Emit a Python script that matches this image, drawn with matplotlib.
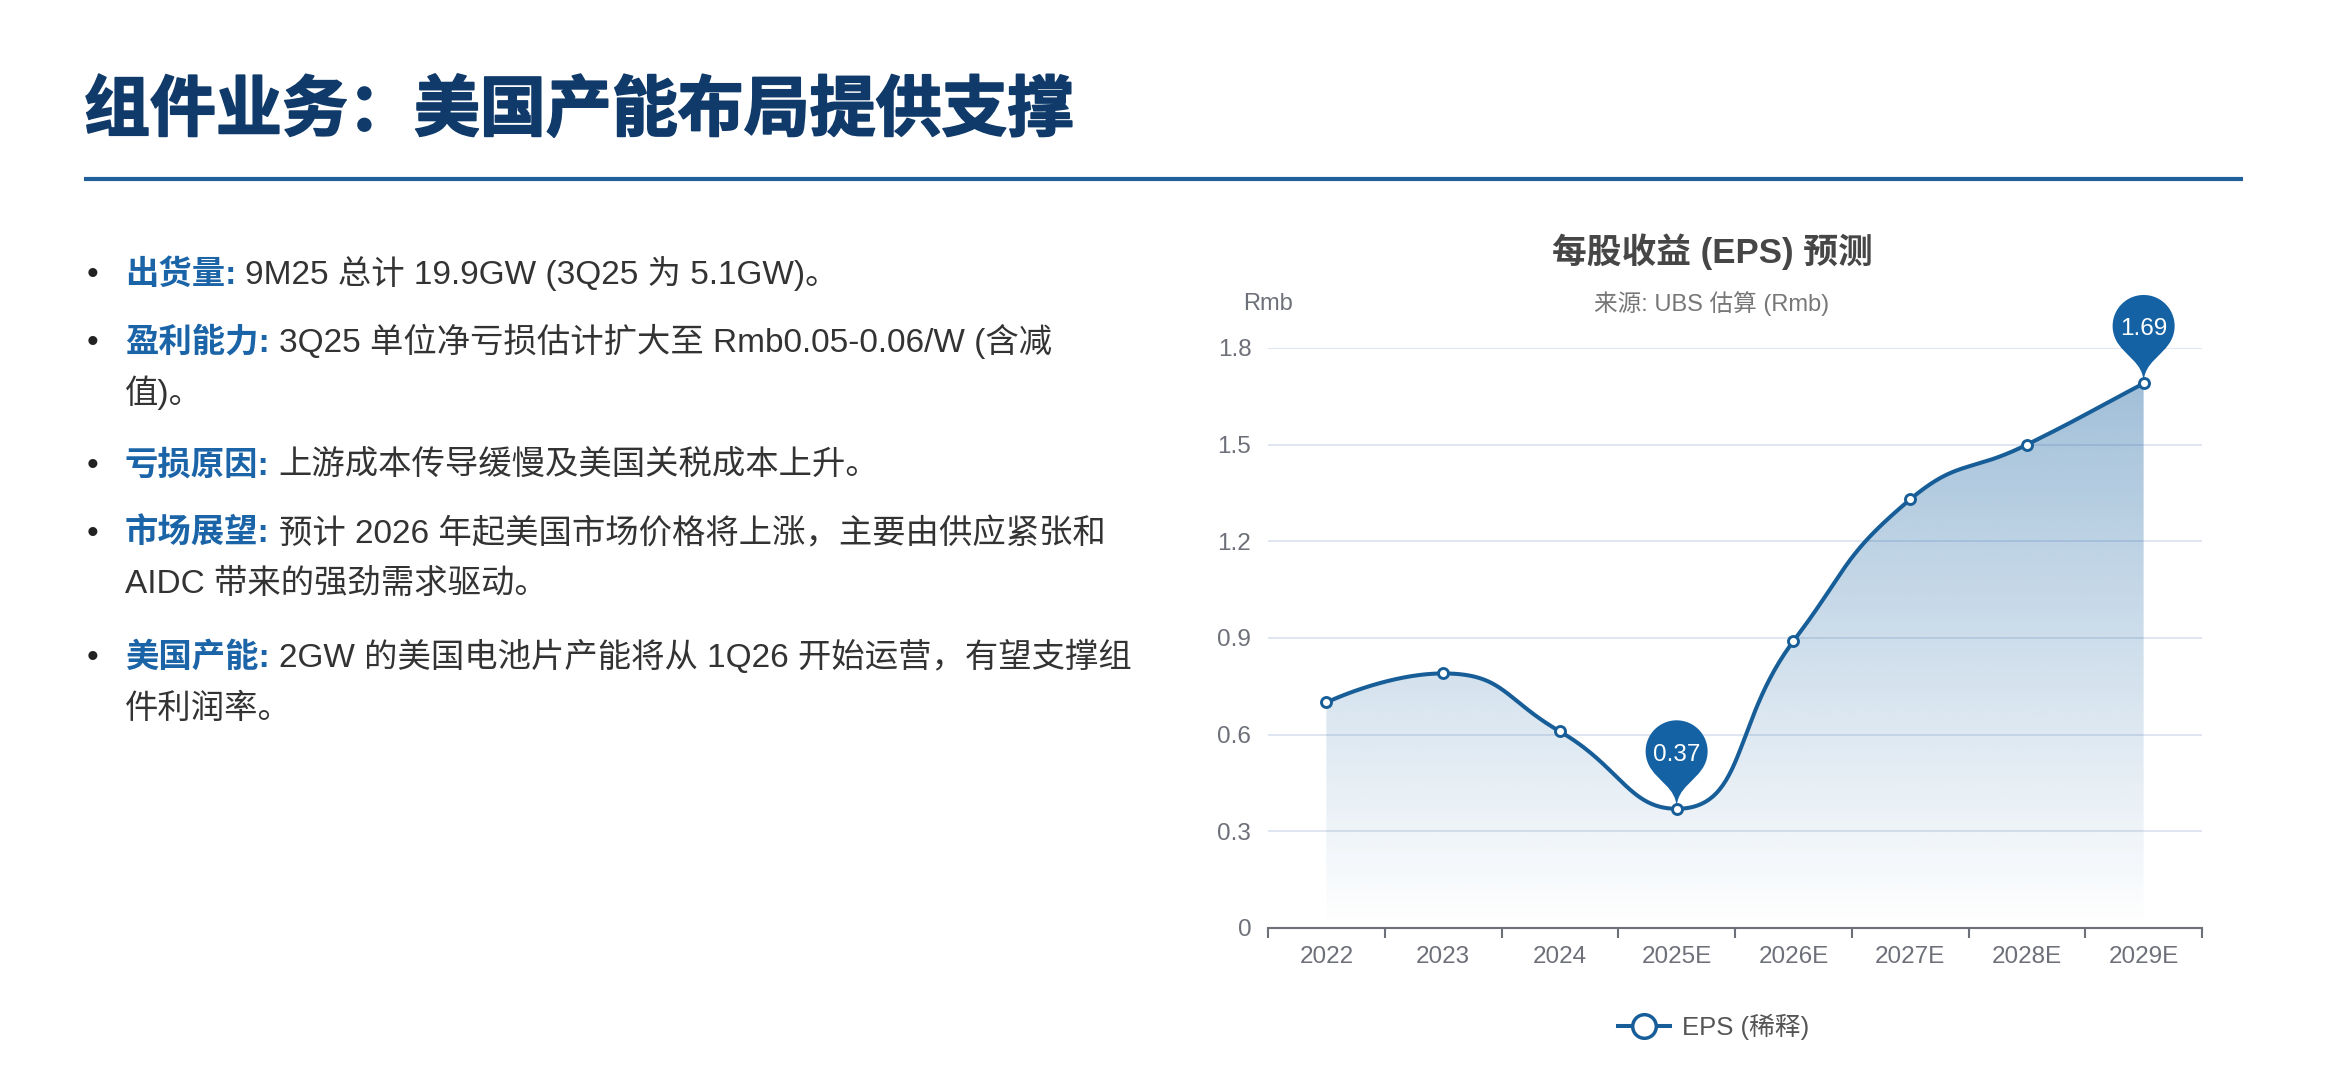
import numpy as np
import matplotlib
matplotlib.use('Agg')
import matplotlib.pyplot as plt
from matplotlib.path import Path
from matplotlib.patches import PathPatch, Polygon
from matplotlib.lines import Line2D
from matplotlib.transforms import IdentityTransform
import matplotlib.patheffects as pe

# ---------------- data ----------------
categories = ['2022', '2023', '2024', '2025E', '2026E', '2027E', '2028E', '2029E']
eps = [0.70, 0.79, 0.61, 0.37, 0.89, 1.33, 1.50, 1.69]
y_ticks = [0, 0.3, 0.6, 0.9, 1.2, 1.5, 1.8]
y_tick_labels = ['0', '0.3', '0.6', '0.9', '1.2', '1.5', '1.8']
pin_categories = ['2025E', '2029E']

page_title = '组件业务：美国产能布局提供支撑'
chart_title = '每股收益 (EPS) 预测'
chart_subtitle = '来源: UBS 估算 (Rmb)'
y_unit = 'Rmb'
legend_label = 'EPS (稀释)'

bullet_labels = ['出货量:', '盈利能力:', '亏损原因:', '市场展望:', '美国产能:']
bullet_lines = [
    ['9M25 总计 19.9GW (3Q25 为 5.1GW)。'],
    ['3Q25 单位净亏损估计扩大至 Rmb0.05-0.06/W (含减', '值)。'],
    ['上游成本传导缓慢及美国关税成本上升。'],
    ['预计 2026 年起美国市场价格将上涨，主要由供应紧张和', 'AIDC 带来的强劲需求驱动。'],
    ['2GW 的美国电池片产能将从 1Q26 开始运营，有望支撑组', '件利润率。'],
]

# ---------------- layout / style ----------------
W, H = 2325, 1080
FAM = ['Liberation Sans', 'Noto Sans CJK SC', 'DejaVu Sans']
CJK = ['Noto Sans CJK SC', 'DejaVu Sans']
LINE_C = '#175e98'
PIN_C = '#1462a3'
AXIS_C = '#6E7079'
bullet_center_y = [[272], [340, 391], [463], [531, 581], [655, 706]]
BULLET_X = 92
TEXT_X = 125

fig = plt.figure(figsize=(W / 100, H / 100), dpi=100)
fig.patch.set_facecolor('white')


def fx(x):
    return x / W


def fy(y):
    return 1 - y / H


# page title + rule
fig.text(fx(84), fy(111), page_title, fontsize=47.5, fontweight='heavy',
         color='#0f3a6a', family=CJK, ha='left', va='center',
         path_effects=[pe.withStroke(linewidth=1.3, foreground='#0f3a6a')])
fig.add_artist(Line2D([fx(84), fx(2243)], [fy(179), fy(179)],
                      color='#1f5f9c', lw=3, solid_capstyle='butt'))

# bullets
renderer = fig.canvas.get_renderer()
BFS = 24
for lab, lines, ys in zip(bullet_labels, bullet_lines, bullet_center_y):
    base0 = ys[0] + 12
    fig.text(fx(BULLET_X), fy(base0), '•', fontsize=BFS, color='#222222',
             family=FAM, ha='center', va='baseline')
    t = fig.text(fx(TEXT_X), fy(base0), lab, fontsize=BFS, fontweight='bold',
                 color='#1b64a8', family=FAM, ha='left', va='baseline')
    wlab = t.get_window_extent(renderer).width
    fig.text(fx(TEXT_X + wlab + 9), fy(base0), lines[0], fontsize=BFS,
             color='#333333', family=FAM, ha='left', va='baseline')
    for ln, yy in zip(lines[1:], ys[1:]):
        fig.text(fx(TEXT_X), fy(yy + 12), ln, fontsize=BFS,
                 color='#333333', family=FAM, ha='left', va='baseline')

# chart titles
fig.text(fx(1712), fy(252), chart_title, fontsize=25, fontweight='bold',
         color='#464646', family=FAM, ha='center', va='center')
fig.text(fx(1712), fy(304), chart_subtitle, fontsize=17,
         color='#777777', family=FAM, ha='center', va='center')
fig.text(fx(1268), fy(304), y_unit, fontsize=17,
         color='#6E7079', family=FAM, ha='center', va='center')

# ---------------- axes ----------------
ax = fig.add_axes([fx(1268), 1 - 928 / H, (2202 - 1268) / W, (928 - 348) / H])
ax.set_facecolor('none')
n = len(categories)
xpos = np.arange(n) + 0.5
ax.set_xlim(0, n)
ax.set_ylim(0, 1.8)

ax.set_xticks(np.arange(n + 1))
ax.set_xticklabels([''] * (n + 1))
ax.set_xticks(xpos, minor=True)
ax.set_xticklabels(categories, minor=True)
ax.tick_params(axis='x', which='major', length=7, width=1.5, color=AXIS_C, direction='out')
ax.tick_params(axis='x', which='minor', length=0, pad=13, labelsize=17.5, labelcolor=AXIS_C)
for lbl in ax.get_xticklabels(minor=True):
    lbl.set_family(FAM)

ax.set_yticks(y_ticks)
ax.set_yticklabels(y_tick_labels)
ax.tick_params(axis='y', length=0, pad=12, labelsize=17.5, labelcolor=AXIS_C)
for lbl in ax.get_yticklabels():
    lbl.set_family(FAM)

ax.grid(axis='y', color='#E0E6F1', lw=1.4)
ax.set_axisbelow(True)
for s in ['top', 'right', 'left']:
    ax.spines[s].set_visible(False)
ax.spines['bottom'].set_color(AXIS_C)
ax.spines['bottom'].set_linewidth(1.5)
ax.spines['bottom'].set_zorder(2.5)

# ---------------- smooth curve (ECharts-like, computed in pixel space) ----------------
pts = ax.transData.transform(np.column_stack([xpos, eps]))
px, py = pts[:, 0], pts[:, 1]
smooth = 0.5


def clamp(v, a, b):
    return min(max(v, min(a, b)), max(a, b))


segs = []
cp0 = (px[0], py[0])
for i in range(1, n):
    x, y = px[i], py[i]
    pX, pY = px[i - 1], py[i - 1]
    if i == n - 1:
        nX, nY = x, y
    else:
        nX, nY = px[i + 1], py[i + 1]
    vx, vy = nX - pX, nY - pY
    lp = np.hypot(x - pX, y - pY)
    lnx = np.hypot(nX - x, nY - y)
    r = lnx / (lnx + lp)
    c1x, c1y = x - vx * smooth * (1 - r), y - vy * smooth * (1 - r)
    ncx, ncy = x + vx * smooth * r, y + vy * smooth * r
    if lnx > 0:
        ncx, ncy = clamp(ncx, nX, x), clamp(ncy, nY, y)
        vx, vy = ncx - x, ncy - y
        c1x, c1y = x - vx * lp / lnx, y - vy * lp / lnx
        c1x, c1y = clamp(c1x, pX, x), clamp(c1y, pY, y)
        vx, vy = x - c1x, y - c1y
        ncx, ncy = x + vx * lnx / lp, y + vy * lnx / lp
    segs.append(((pX, pY), cp0, (c1x, c1y), (x, y)))
    cp0 = (ncx, ncy)

tt = np.linspace(0, 1, 60)
samples = []
for k, (p0, c0, c1, p1) in enumerate(segs):
    p0, c0, c1, p1 = map(np.array, (p0, c0, c1, p1))
    b = ((1 - tt) ** 3)[:, None] * p0 + (3 * (1 - tt) ** 2 * tt)[:, None] * c0 \
        + (3 * (1 - tt) * tt ** 2)[:, None] * c1 + (tt ** 3)[:, None] * p1
    samples.append(b if k == 0 else b[1:])
samples = np.vstack(samples)
curve = ax.transData.inverted().transform(samples)
cx, cy = curve[:, 0], curve[:, 1]

# gradient area
ymax = cy.max()
poly_xy = np.vstack([curve, [[xpos[-1], 0], [xpos[0], 0]]])
clip_poly = Polygon(poly_xy, closed=True, facecolor='none', edgecolor='none',
                    transform=ax.transData)
ax.add_patch(clip_poly)
grad = np.zeros((256, 1, 4))
base_rgb = np.array([21, 96, 160]) / 255.0
grad[:, 0, :3] = base_rgb
grad[:, 0, 3] = np.linspace(0.0, 0.4, 256)
im = ax.imshow(grad, extent=(xpos[0], xpos[-1], 0, ymax), origin='lower',
               aspect='auto', interpolation='bilinear', zorder=1)
im.set_clip_path(clip_poly)
ax.set_xlim(0, n)
ax.set_ylim(0, 1.8)

ax.plot(cx, cy, color=LINE_C, lw=2.9, zorder=3, solid_capstyle='round')
ax.plot(xpos, eps, ls='none', marker='o', ms=7.2, mfc='white', mec=LINE_C,
        mew=2.1, zorder=6)


# ---------------- pins ----------------
def pin_path(X, Y, r=31.0, h=102.0):
    dy = r * r / (h - r)
    hc = h - r - dy
    cyy = Y + hc
    a = np.arcsin(dy / r)
    dx = np.cos(a) * r
    tanX, tanY = np.sin(a), np.cos(a)
    cpl, cpl2 = r * 0.6, r * 0.7
    angs = np.linspace(np.pi + a, -a, 80)
    verts = [(X + r * np.cos(t), cyy + r * np.sin(t)) for t in angs]
    codes = [Path.MOVETO] + [Path.LINETO] * (len(verts) - 1)
    rx, ry = X + dx, cyy - dy
    verts += [(rx - tanX * cpl, ry - tanY * cpl), (X, Y + cpl2), (X, Y)]
    codes += [Path.CURVE4] * 3
    verts += [(X, Y + cpl2), (X - dx + tanX * cpl, ry - tanY * cpl), (X - dx, ry)]
    codes += [Path.CURVE4] * 3
    verts.append((X - dx, ry))
    codes.append(Path.CLOSEPOLY)
    return Path(verts, codes), hc


for cat in pin_categories:
    i = categories.index(cat)
    X, Y = ax.transData.transform((xpos[i], eps[i]))
    pth, hc = pin_path(X, Y)
    patch = PathPatch(pth, transform=IdentityTransform(), facecolor=PIN_C,
                      edgecolor='none', zorder=5, clip_on=False)
    ax.add_artist(patch)
    ax.annotate(f'{eps[i]:.2f}', xy=(xpos[i], eps[i]), xytext=(0, 54 * 0.72),
                textcoords='offset points', ha='center', va='center',
                color='white', fontsize=17.5, family=FAM, zorder=7,
                annotation_clip=False)

# ---------------- legend ----------------
handle = Line2D([], [], color=LINE_C, lw=2.9, marker='o', ms=17, mfc='white',
                mec=LINE_C, mew=2.5)
fig.legend([handle], [legend_label], loc='center',
           bbox_to_anchor=(fx(1714), fy(1027)), frameon=False,
           prop={'family': FAM, 'size': 18.5}, handlelength=2.0,
           handletextpad=0.5, labelcolor='#555555')

fig.savefig('out.png', dpi=100, facecolor='white')
